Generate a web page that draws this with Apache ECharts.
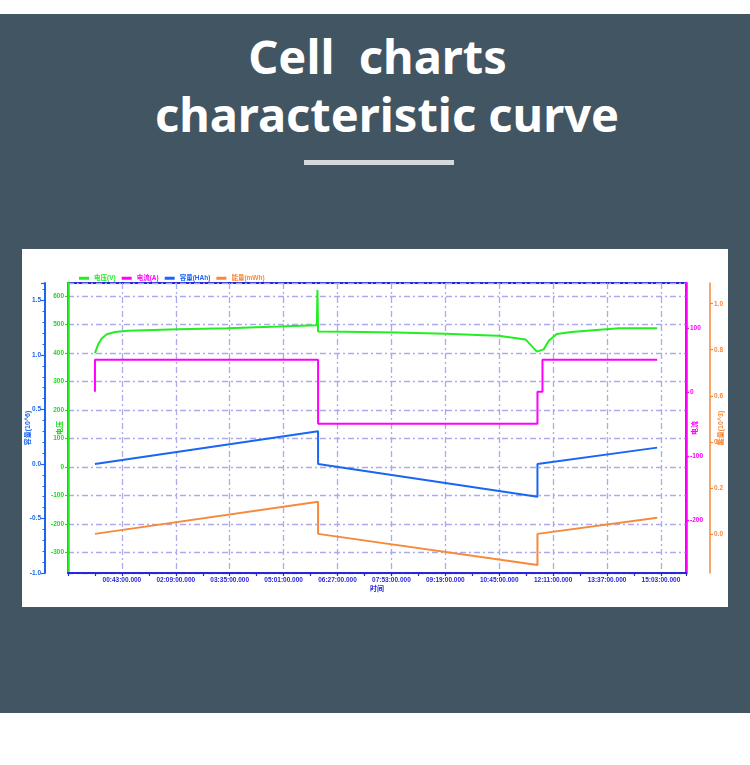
<!DOCTYPE html>
<html>
<head>
<meta charset="utf-8">
<script src="https://cdn.jsdelivr.net/npm/echarts@6/dist/echarts.min.js"></script>
<style>
  body { margin: 0; width: 750px; height: 765px; background: #fff; position: relative; overflow: hidden; font-family: "Noto Sans", sans-serif; }
  .banner { position: absolute; left: 0; top: 14px; width: 750px; height: 699px; background: #425562; }
  .title { position: absolute; left: 0; width: 750px; box-sizing: border-box; text-align: center; color: #fff; font-weight: 700; font-size: 47px; line-height: 47px; white-space: pre; }
  .bar { position: absolute; left: 304px; top: 160px; width: 150px; height: 5px; background: #d3d9dc; }
  #chart { position: absolute; left: 22px; top: 249px; width: 706px; height: 358px; background: #fff; }
</style>
</head>
<body>
<div class="banner"></div>
<div class="title" style="top:33px; padding-left:5px">Cell  charts</div>
<div class="title" style="top:91px; padding-left:24px">characteristic curve</div>
<div class="bar"></div>
<div id="chart"></div>
<script>
// time in minutes since the test started
const voltageTime = [0, 5, 11, 19, 32, 53, 133, 211, 293, 354, 355, 356, 400, 480, 560, 620, 644, 687, 705, 716, 724, 737, 760, 800, 836, 897];
const voltageValue = [400, 430, 452, 466, 474, 478, 484, 487, 493, 498, 621, 476, 475, 472, 468, 463, 461, 448, 405, 413, 443, 467, 474, 481, 487, 487];

const currentTime = [0, 0, 356, 356, 706, 706, 714, 714, 897];
const currentValue = [0, 50, 50, -50, -50, 0, 0, 50, 50];

const capacityTime = [0, 356, 356, 706, 706, 897];
const capacityValue = [0, 0.30, 0, -0.30, 0, 0.15];

const energyTime = [0, 356, 356, 706, 706, 897];
const energyValue = [0, 0.14, 0, -0.135, 0, 0.07];

const legendNames = ["电压(V)", "电流(A)", "容量(HAh)", "能量(mWh)"];

const GREEN = "#22ee22";
const MAGENTA = "#ff00ff";
const BLUE = "#1a66f2";
const ORANGE = "#f7893b";
const XBLUE = "#2626dc";
const GRIDLINE = { show: true, lineStyle: { color: "#aaaaec", type: [6, 3, 2, 3], width: 1.3 } };

function pairs(xs, ys) {
  return xs.map((t, i) => [t, ys[i]]);
}

function fmtTime(v) {
  const h = Math.floor(v / 60);
  const m = Math.round(v % 60);
  return String(h).padStart(2, "0") + ":" + String(m).padStart(2, "0") + ":00.000";
}

function yAxis(color, opts) {
  return Object.assign({
    type: "value",
    nameLocation: "middle",
    nameMoveOverlap: false,
    nameTextStyle: { color: color, fontSize: 7, fontWeight: "bold" },
    axisLine: { show: true, onZero: false, lineStyle: { color: color, width: 2 } },
    axisTick: { show: true, length: 3, lineStyle: { color: color, width: 1.2 } },
    axisLabel: { color: color, fontSize: 6.5, fontWeight: "bold", margin: 4, showMinLabel: false, showMaxLabel: false },
    splitLine: { show: false }
  }, opts);
}

const chart = echarts.init(document.getElementById("chart"));

const option = {
  animation: false,
  textStyle: { fontFamily: "Liberation Sans, Noto Sans CJK SC, sans-serif" },
  legend: {
    left: 52,
    top: 21,
    icon: "rect",
    itemWidth: 10,
    itemHeight: 3,
    itemGap: 6,
    textStyle: { fontSize: 6.5, fontWeight: "bold" },
    data: [
      { name: legendNames[0], textStyle: { color: GREEN } },
      { name: legendNames[1], textStyle: { color: MAGENTA } },
      { name: legendNames[2], textStyle: { color: BLUE } },
      { name: legendNames[3], textStyle: { color: ORANGE } }
    ]
  },
  grid: {
    left: 46, right: 42, top: 34, bottom: 34,
    show: true, borderColor: XBLUE, borderWidth: 2,
    outerBoundsMode: "none"
  },
  xAxis: {
    type: "value",
    min: -43,
    max: 943,
    interval: 86,
    name: "时间",
    nameLocation: "middle",
    nameGap: 13,
    nameMoveOverlap: false,
    nameTextStyle: { color: XBLUE, fontSize: 7, fontWeight: "bold" },
    axisLine: { show: true, onZero: false, lineStyle: { color: XBLUE, width: 2 } },
    axisTick: { show: true, length: 3, lineStyle: { color: XBLUE, width: 1.2 } },
    minorTick: { show: true, splitNumber: 2, length: 3, lineStyle: { color: XBLUE, width: 1.2 } },
    axisLabel: { color: XBLUE, fontSize: 6.5, fontWeight: "bold", margin: 4, showMinLabel: false, showMaxLabel: false, formatter: fmtTime },
    splitLine: GRIDLINE
  },
  yAxis: [
    yAxis("#18dd18", {
      position: "left", offset: 0, min: -372, max: 646, splitNumber: 10,
      name: "电压", nameGap: 4.5,
      axisLine: { show: true, onZero: false, lineStyle: { color: GREEN, width: 2.5 } },
      splitLine: GRIDLINE
    }),
    yAxis(BLUE, {
      position: "left", offset: 23, min: -1, max: 1.66, interval: 0.5,
      name: "容量(10^6)", nameGap: 13.5,
      axisTick: { show: true, length: 4, lineStyle: { color: BLUE, width: 1.2 } },
      minorTick: { show: true, splitNumber: 5, length: 2.5, lineStyle: { color: BLUE, width: 1 } },
      axisLabel: { color: BLUE, fontSize: 6.5, fontWeight: "bold", margin: 4, showMaxLabel: false, formatter: (v) => v.toFixed(1) }
    }),
    yAxis(MAGENTA, {
      position: "right", offset: 0, min: -283, max: 170, splitNumber: 5,
      name: "电流", nameGap: 5.5,
      axisLine: { show: true, onZero: false, lineStyle: { color: MAGENTA, width: 2.5 } }
    }),
    yAxis(ORANGE, {
      position: "right", offset: 24, min: -0.17, max: 1.09, splitNumber: 6,
      name: "能量(10^3)", nameGap: 7.5,
      axisLine: { show: true, onZero: false, lineStyle: { color: ORANGE, width: 1.5 } },
      axisLabel: { color: ORANGE, fontSize: 6.5, fontWeight: "bold", margin: 4, showMinLabel: false, showMaxLabel: false, formatter: (v) => v.toFixed(1) }
    })
  ],
  series: [
    {
      name: legendNames[0], type: "line", yAxisIndex: 0, showSymbol: false,
      data: pairs(voltageTime, voltageValue),
      lineStyle: { color: GREEN, width: 2 }, itemStyle: { color: GREEN }
    },
    {
      name: legendNames[1], type: "line", yAxisIndex: 2, showSymbol: false,
      data: pairs(currentTime, currentValue),
      lineStyle: { color: MAGENTA, width: 2 }, itemStyle: { color: MAGENTA }
    },
    {
      name: legendNames[2], type: "line", yAxisIndex: 1, showSymbol: false,
      data: pairs(capacityTime, capacityValue),
      lineStyle: { color: BLUE, width: 2 }, itemStyle: { color: BLUE }
    },
    {
      name: legendNames[3], type: "line", yAxisIndex: 3, showSymbol: false,
      data: pairs(energyTime, energyValue),
      lineStyle: { color: ORANGE, width: 2 }, itemStyle: { color: ORANGE }
    }
  ]
};

chart.setOption(option);
</script>
</body>
</html>
